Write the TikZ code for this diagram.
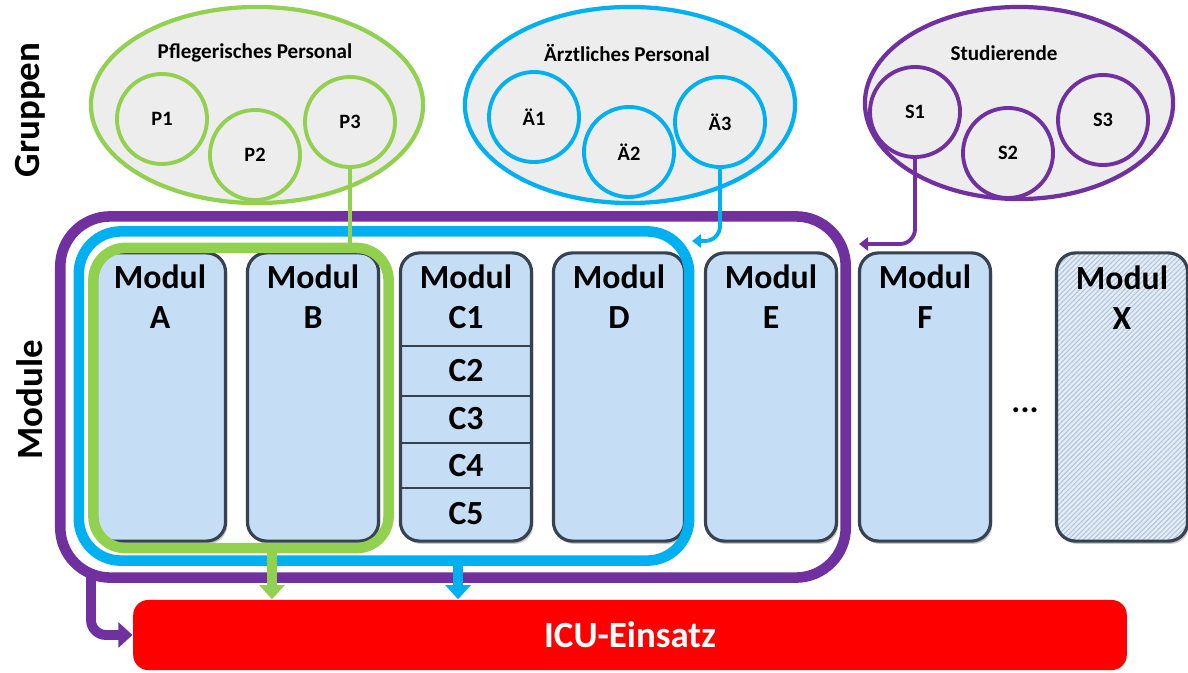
\documentclass[tikz,border=0pt]{standalone}
\usepackage{fontspec}
\setmainfont{Carlito}
\usetikzlibrary{shapes.geometric,arrows.meta,shadows,patterns.meta}

\definecolor{grgreen}{RGB}{146,208,80}
\definecolor{grblue}{RGB}{0,176,240}
\definecolor{grpurple}{RGB}{112,48,160}
\definecolor{grfill}{RGB}{237,237,237}
\definecolor{modfill}{RGB}{197,222,245}
\definecolor{modline}{RGB}{55,66,80}
\definecolor{xfill}{RGB}{226,237,248}
\definecolor{xhatch}{RGB}{180,195,214}
\definecolor{icured}{RGB}{255,0,0}

\tikzset{
  grp/.style={ellipse, draw=#1, line width=1.2pt, fill=grfill, inner sep=0pt},
  mem/.style={circle, draw=#1, line width=1.1pt, fill=grfill, minimum size=0.9cm,
    inner sep=0pt, font=\fontsize{5.8}{6}\selectfont\bfseries},
  grptitle/.style={font=\fontsize{6}{7}\selectfont\bfseries},
  modul/.style={rectangle, rounded corners=0.19cm, draw=modline, line width=0.9pt,
    fill=modfill, minimum width=1.31cm, minimum height=2.88cm,
    drop shadow={shadow xshift=0.5pt,shadow yshift=-0.8pt,opacity=0.45}},
  modtxt/.style={font=\fontsize{9.6}{11.4}\selectfont\bfseries, align=center, inner sep=0pt},
  ringbox/.style={rectangle, draw=#1, line width=3pt, inner sep=0pt},
  sidelabel/.style={rotate=90, font=\fontsize{10.5}{12}\selectfont\bfseries},
  thinarrow/.style={draw=#1, line width=1.1pt, rounded corners=0.15cm,
    -{Triangle[width=3.8pt,length=2.6pt]}},
  fatarrow/.style={draw=#1, line width=2.8pt, -{Triangle[width=7pt,length=4pt]}},
}

\begin{document}
\begin{tikzpicture}[x=0.01cm,y=-0.01cm]
\useasboundingbox (0,0) rectangle (1188,673);

% side labels
\node[sidelabel] (lgrp) at (30,110) {Gruppen};
\node[sidelabel] (lmod) at (30,400) {Module};

% groups
\node[grp=grgreen, minimum width=3.32cm, minimum height=1.96cm] (pfl) at (257,105) {};
\node[grptitle] (pfltitle) at (255,53) {Pflegerisches Personal};
\node[mem=grgreen] (P1) at (162,119) {P1};
\node[mem=grgreen] (P2) at (255,155) {P2};
\node[mem=grgreen] (P3) at (350,122) {P3};

\node[grp=grblue, minimum width=3.30cm, minimum height=1.96cm] (arzt) at (630,105) {};
\node[grptitle] (arzttitle) at (627,53) {Ärztliches Personal};
\node[mem=grblue] (A1) at (534,117) {Ä1};
\node[mem=grblue] (A2) at (629,152) {Ä2};
\node[mem=grblue] (A3) at (720,122) {Ä3};

\node[grp=grpurple, minimum width=3.08cm, minimum height=1.92cm] (stud) at (1019,103) {};
\node[grptitle] (studtitle) at (1004,53) {Studierende};
\node[mem=grpurple] (S1) at (915,112) {S1};
\node[mem=grpurple] (S2) at (1008,153) {S2};
\node[mem=grpurple] (S3) at (1103,120) {S3};

% modules
\foreach \m/\x in {A/160,B/313,C/466,D/619,E/771,F/925}{
  \node[modul] (\m) at (\x,397) {};
}
\node[modul, fill=none, preaction={fill=xfill},
  pattern={Lines[angle=45,distance=1pt,line width=0.3pt]}, pattern color=xhatch] (X) at (1122,397) {};
\foreach \m/\t in {A/A,B/B,C/C1,D/D,E/E,F/F,X/X}{
  \node[modtxt, anchor=north] (\m txt) at ([yshift=-0.13cm]\m.north) {Modul\\\t};
}
\foreach \y in {346,396,443,488}
  \draw[modline, line width=0.8pt] (C.west |- 0,\y) -- (C.east |- 0,\y);
\foreach \n/\y in {2/371,3/419,4/466,5/514}
  \node[modtxt] (C\n) at (C.center |- 0,\y) {C\n};
\node[modtxt] (dots) at (1025,410) {...};

% ICU
\node[rectangle, rounded corners=0.15cm, fill=icured, minimum width=9.93cm,
  minimum height=0.7cm, text=white, font=\fontsize{10.5}{12}\selectfont\bfseries]
  (icu) at (630,635) {ICU-Einsatz};

% frames
\node[ringbox=grpurple, rounded corners=0.5cm, minimum width=7.85cm, minimum height=3.61cm] (pframe) at (453,397) {};
\node[ringbox=grblue, rounded corners=0.42cm, minimum width=6.10cm, minimum height=3.29cm] (bframe) at (384,396) {};
\node[ringbox=grgreen, rounded corners=0.32cm, minimum width=2.95cm, minimum height=3.00cm] (gframe) at (241,398) {};

% arrows to ICU
\draw[fatarrow=grgreen] ([xshift=0.31cm]gframe.south) -- ([xshift=0.31cm]gframe.south |- icu.north);
\draw[fatarrow=grblue] ([xshift=0.74cm]bframe.south) -- ([xshift=0.74cm]bframe.south |- icu.north);
\coordinate (pstart) at (91,570);
\draw[fatarrow=grpurple, rounded corners=0.15cm] (pstart) |- (icu.west);

% group connectors
\coordinate (btip) at (692,241);
\coordinate (ptip) at (859,244);
\draw[grgreen, line width=1.4pt] (P3.south) -- (P3.south |- gframe.north);
\draw[thinarrow=grblue] (A3.south) |- (btip);
\draw[thinarrow=grpurple] (S1.south) |- (ptip);
\end{tikzpicture}
\end{document}
